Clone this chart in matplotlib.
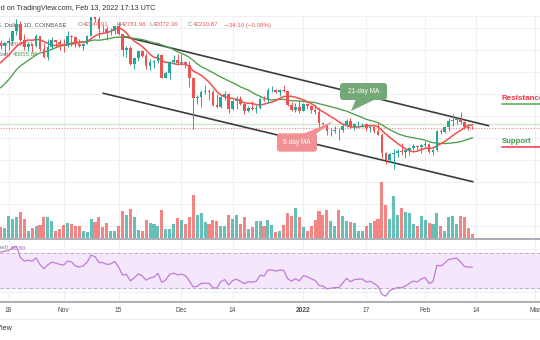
import numpy as np
import pandas as pd
import matplotlib
matplotlib.use("Agg")
import matplotlib.pyplot as plt
from matplotlib.transforms import Affine2D, blended_transform_factory
from matplotlib.patches import FancyBboxPatch, Polygon
from matplotlib.lines import Line2D

plt.rcParams["font.family"] = ["Liberation Sans", "DejaVu Sans"]

# BTC/USD daily candles (Coinbase), 2021-10-16 .. 2022-02-13
opens = [61550, 60880, 61530, 61990, 64280, 66000, 62200, 60690, 61300, 60860,
         63080, 60330, 58450, 60590, 62270, 61880, 61320, 61000, 63230, 62930,
         61400, 60950, 61460, 63270, 67540, 66940, 64880, 64780, 64150, 64390,
         65500, 63600, 60100, 60370, 56900, 58100, 59720, 58720, 56300, 57200,
         57500, 58950, 53700, 54750, 57300, 57800, 56950, 57200, 56500, 53600,
         49200, 49400, 50550, 50600, 50500, 47550, 47150, 49350, 50100, 46700,
         48350, 48900, 47650, 46200, 46850, 46700, 46900, 48950, 48600, 50800,
         50850, 50450, 50800, 50700, 47550, 46450, 47150, 46200, 47750, 47350,
         46450, 45850, 43450, 43100, 41550, 41700, 41850, 41800, 42750, 43900,
         42600, 43100, 43200, 43250, 42250, 42400, 41700, 40700, 36500, 35100,
         36300, 36700, 37000, 36850, 37200, 37750, 38200, 37900, 38500, 38750,
         36900, 37300, 41600, 41400, 42400, 43850, 44050, 44400, 43550, 42400,
         42245]
highs = [62350, 61700, 62650, 64500, 66990, 66650, 63700, 61750, 61480, 63700,
         63280, 61480, 62500, 62950, 62350, 62400, 62400, 64250, 63500, 63120,
         62600, 61550, 63300, 67780, 68530, 69000, 65600, 65450, 64950, 65550,
         66300, 63650, 60800, 60950, 58350, 59850, 60000, 59300, 57850, 57700,
         59350, 59150, 55300, 57450, 58900, 59200, 59100, 57400, 57600, 53900,
         49700, 50900, 51950, 51200, 50800, 50100, 49500, 50750, 50200, 48700,
         49500, 49450, 48000, 47300, 48350, 47550, 49350, 49550, 51350, 51850,
         51150, 51250, 52100, 50750, 48150, 47900, 48550, 47950, 47950, 47550,
         47500, 47050, 43750, 43150, 42300, 42800, 42250, 43100, 44350, 44450,
         43450, 43800, 43500, 43300, 42700, 42600, 43500, 41100, 36800, 36500,
         37550, 37550, 38900, 37250, 38000, 38700, 38400, 38750, 39300, 38850,
         37400, 41750, 41950, 42650, 44500, 45500, 44800, 45850, 43950, 43000,
         42782]
lows = [60150, 58950, 60000, 61350, 63500, 62000, 60000, 59700, 59600, 60650,
        59850, 58100, 57800, 60200, 60700, 59950, 59500, 60600, 60950, 60700,
        60750, 60100, 61350, 63100, 66350, 62800, 64100, 62300, 63400, 63580,
        63450, 58600, 58350, 56500, 55650, 57400, 58500, 55650, 55400, 55900,
        57000, 53600, 53650, 53350, 56750, 56550, 56500, 55850, 51700, 42000,
        47800, 47100, 50100, 48650, 47350, 46900, 46850, 48650, 45650, 46300,
        46550, 47550, 45500, 45950, 46400, 45600, 46650, 48450, 48050, 50450,
        50200, 49450, 50450, 47350, 46100, 45900, 45700, 46150, 46700, 45700,
        45500, 42500, 42450, 40650, 40550, 41250, 39650, 41300, 42500, 42350,
        41750, 42600, 42600, 41550, 41300, 41150, 40600, 35500, 34000, 34600,
        32950, 35750, 36250, 35550, 36200, 37350, 37350, 36650, 38000, 36600,
        36250, 37050, 40950, 41100, 41650, 42700, 43150, 43200, 42000, 41750,
        42072]
closes = [60880, 61530, 61990, 64280, 66000, 62200, 60690, 61300, 60860, 63080,
          60330, 58450, 60590, 62270, 61880, 61320, 61000, 63230, 62930, 61400,
          60950, 61460, 63270, 67540, 66940, 64880, 64780, 64150, 64390, 65500,
          63600, 60100, 60370, 56900, 58100, 59720, 58720, 56300, 57200, 57500,
          58950, 53700, 54750, 57300, 57800, 56950, 57200, 56500, 53600, 49200,
          49400, 50550, 50600, 50500, 47550, 47150, 49350, 50100, 46700, 48350,
          48900, 47650, 46200, 46850, 46700, 46900, 48950, 48600, 50800, 50850,
          50450, 50800, 50700, 47550, 46450, 47150, 46200, 47750, 47350, 46450,
          45850, 43450, 43100, 41550, 41700, 41850, 41800, 42750, 43900, 42600,
          43100, 43200, 43250, 42250, 42400, 41700, 40700, 36500, 35100, 36300,
          36700, 37000, 36850, 37200, 37750, 38200, 37900, 38500, 38750, 36900,
          37300, 41600, 41400, 42400, 43850, 44050, 44400, 43550, 42400, 42245,
          42211]
# volume, relative units
volumes = [33, 30, 65, 58, 63, 78, 57, 22, 30, 35, 40, 62, 63, 50, 22, 28, 38, 45,
           42, 37, 35, 22, 18, 58, 48, 62, 34, 45, 20, 20, 35, 82, 68, 87, 62, 25,
           22, 53, 45, 42, 35, 85, 27, 28, 43, 60, 55, 43, 63, 128, 70, 75, 47, 43,
           53, 51, 37, 35, 69, 57, 70, 42, 62, 27, 32, 52, 51, 35, 55, 38, 18, 22,
           38, 75, 67, 90, 62, 32, 22, 37, 55, 82, 69, 85, 50, 37, 84, 65, 52, 48,
           45, 20, 22, 37, 45, 52, 58, 167, 98, 58, 127, 70, 90, 77, 75, 43, 35,
           65, 55, 45, 43, 75, 37, 22, 63, 65, 42, 65, 64, 30, 12]
# closes 2021-09-01 .. 2021-10-15 (before the first candle), used by MA / RSI
earlier_closes = [48850, 49300, 50000, 49900, 51750, 52700, 46850, 46050, 46400, 44850,
                  45150, 46050, 44950, 47100, 48150, 47750, 47300, 48300, 47250, 43000,
                  40700, 43550, 44900, 42800, 42700, 43200, 42200, 41050, 41500, 43800,
                  48150, 47650, 48200, 49250, 51500, 55350, 53800, 53950, 54950, 54650,
                  57500, 56000, 57400, 57350, 61650]

first_day = "2021-10-16"
tick_dates = ["2021-10-18", "2021-11-01", "2021-11-15", "2021-12-01", "2021-12-14",
              "2022-01-01", "2022-01-17", "2022-02-01", "2022-02-14", "2022-03-01"]
tick_labels = ["18", "Nov", "15", "Dec", "14", "2022", "17", "Feb", "14", "Mar"]

# trend channel drawn on the chart (days after first candle, price)
upper_channel_x = [31.6, 124.1]
upper_channel_y = [63020, 42800]
lower_channel_x = [26.1, 120.1]
lower_channel_y = [50160, 30070]
level_price = 43180
last_close = 42210.87

UP, DOWN = "#26a69a", "#ef5350"
GRID = "#edf0f5"
FS = 4.4

W, H = 540, 340
fig = plt.figure(figsize=(W / 100, H / 100), dpi=100)
# pixel coordinates, origin top-left
pix = Affine2D().scale(1, -1).translate(0, H).scale(1 / 100) + fig.dpi_scale_trans


def rect(top, bottom):
    return [0, 1 - bottom / H, 1, (bottom - top) / H]


n = len(closes)
x = np.arange(n)
xlim = (-0.7 / 3.93, (W - 0.7) / 3.93)
t0 = pd.Timestamp(first_day)
tick_x = [(pd.Timestamp(d) - t0).days for d in tick_dates]

all_closes = pd.Series(earlier_closes + closes, dtype=float)
ma9 = all_closes.rolling(9).mean().to_numpy()[-n:]
ma21 = all_closes.rolling(21).mean().to_numpy()[-n:]

delta = np.diff(all_closes.to_numpy())
gain = np.clip(delta, 0, None)
loss = np.clip(-delta, 0, None)
ag, al = gain[:14].mean(), loss[:14].mean()
rsi_all = [100 - 100 / (1 + ag / al)]
for g, l in zip(gain[14:], loss[14:]):
    ag = (ag * 13 + g) / 14
    al = (al * 13 + l) / 14
    rsi_all.append(100 - 100 / (1 + ag / al))
rsi = np.array(rsi_all)[-n:]

colors = [UP if c >= o else DOWN for o, c in zip(opens, closes)]

# --- volume layer (bottom of the price pane)
vax = fig.add_axes(rect(15.5, 238))
vax.set_axis_off()
vax.set_xlim(xlim)
vax.set_ylim(0, 667.5)

# --- price layer
ax = fig.add_axes(rect(15.5, 238))
ax.set_axis_off()
ax.set_xlim(xlim)
ax.set_ylim(17273, 67841)

for tx in tick_x:
    vax.axvline(tx, color=GRID, lw=0.8, zorder=0)
vax.hlines(np.arange(20000, 70000, 5000), xlim[0], xlim[1],
           transform=ax.transData, color=GRID, lw=0.8, zorder=0)
vax.bar(x, volumes, width=0.78, color=colors, alpha=0.7, zorder=1)

ax.axhline(level_price, color="#c8e6c9", lw=0.9, zorder=1)
ax.axhline(last_close, color="#f08a88", lw=0.8, ls=(0, (1, 1.5)), zorder=1)

ax.plot(upper_channel_x, upper_channel_y, color="#3c3c3c", lw=1.2, zorder=2)
ax.plot(lower_channel_x, lower_channel_y, color="#3c3c3c", lw=1.2, zorder=2)

ax.plot(x, ma21, color="#4e9e4c", lw=0.95, zorder=2)
ax.plot(x, ma9, color="#f0504c", lw=1.1, zorder=2)

ax.vlines(x, lows, highs, colors=colors, lw=0.7, zorder=3)
body = np.maximum(np.abs(np.array(closes) - np.array(opens)), 80)
ax.bar(x, body, bottom=np.minimum(opens, closes), width=0.68, color=colors, zorder=3)

# legend lines (sit under the candles, as in the screenshot)
ax.text(67, 25, "Bitcoin / U.S. Dollar, 1D, COINBASE", transform=pix, ha="right",
        va="center", fontsize=FS, color="#555555", zorder=1, clip_on=False)
for lx, letter, vx, val in [(77.5, "O", 82.5, "42244.91"), (116.5, "H", 121, "42781.96"),
                            (149, "L", 153, "42072.36"), (188, "C", 193, "42210.87")]:
    ax.text(lx, 25, letter, transform=pix, va="center", fontsize=FS, color="#787b86",
            zorder=1, clip_on=False)
    ax.text(vx, 25, val, transform=pix, va="center", fontsize=FS, color=DOWN,
            zorder=1, clip_on=False)
ax.text(225, 25, "\u221234.10 (\u22120.08%)", transform=pix, va="center", fontsize=FS,
        color=DOWN, zorder=1, clip_on=False)
ax.text(7.5, 44.5, "MA (9, close, Label)", transform=pix, ha="right", va="center",
        fontsize=FS, color="#787b86", zorder=1, clip_on=False)
ax.text(9, 44.5, "42945.11", transform=pix, va="center", fontsize=FS, color=DOWN,
        zorder=1, clip_on=False)
ax.text(10.5, 54.5, "MA (21, close, Label)", transform=pix, ha="right", va="center",
        fontsize=FS, color="#787b86", zorder=1, clip_on=False)
ax.text(13, 54.5, "40055.86", transform=pix, va="center", fontsize=FS, color="#4e9e4c",
        zorder=1, clip_on=False)

# --- RSI pane
rax = fig.add_axes(rect(239, 302))
rax.set_axis_off()
rax.set_xlim(xlim)
rax.set_ylim(14, 86)
for tx in tick_x:
    rax.axvline(tx, color=GRID, lw=0.8, zorder=0)
for lvl in (25, 50, 75):
    rax.axhline(lvl, color=GRID, lw=0.8, zorder=0)
rax.axhspan(30, 70, color="#f4e7fc", zorder=1)
for lvl in (30, 70):
    rax.axhline(lvl, color="#b0a8b4", lw=0.6, ls=(0, (4, 3)), zorder=2)
rax.plot(x, rsi, color="#c07bd6", lw=0.9, zorder=3)
rax.text(8.5, 248, "RSI (14, close, Label)", transform=pix, ha="right", va="center",
         fontsize=FS, color="#787b86", clip_on=False)
rax.text(11, 248, "53.80", transform=pix, va="center", fontsize=FS, color="#b06cc8",
         clip_on=False)

# pane borders
for yy, col, w in [(15.5, "#eef0f4", 0.8), (239, "#a5a8af", 1.3), (302, "#a5a8af", 1.3),
                   (319, "#eeeeee", 0.8)]:
    fig.add_artist(Line2D([0, W], [yy, yy], transform=pix, color=col, lw=w))

# time axis
tband = blended_transform_factory(ax.transData, pix)
for tx, lab in zip(tick_x, tick_labels):
    fig.text(tx, 310, lab, transform=tband, ha="center", va="center", fontsize=4.8,
             color="#4d4d4d", fontweight="bold" if lab == "2022" else "normal")

# header
fig.text(155, 8, "Published on TradingView.com, Feb 13, 2022 17:13 UTC", transform=pix,
         ha="right", va="center", fontsize=5.2, color="#333333")
fig.text(12.5, 329, "TradingView", transform=pix, ha="right", va="center",
         fontsize=5.2, color="#333333")

# callouts
fig.add_artist(Polygon([(356, 99), (376, 99), (351, 111)], closed=True, transform=pix,
                       facecolor="#74a877", edgecolor="none"))
fig.add_artist(FancyBboxPatch((340, 83), 47, 17, boxstyle="round,pad=0,rounding_size=3",
                              transform=pix, facecolor="#74a877", edgecolor="none"))
fig.text(363.5, 91.5, "21-day MA", transform=pix, ha="center", va="center",
         fontsize=4.7, color="white")

fig.add_artist(Polygon([(303, 134), (316, 134), (334, 121)], closed=True, transform=pix,
                       facecolor="#f29193", edgecolor="none"))
fig.add_artist(FancyBboxPatch((277, 133.3), 40, 18.4, boxstyle="round,pad=0,rounding_size=3",
                              transform=pix, facecolor="#f29193", edgecolor="none"))
fig.text(297, 142.5, "9-day MA", transform=pix, ha="center", va="center",
         fontsize=4.7, color="white")

# support / resistance labels
fig.text(502, 99, "Resistance", transform=pix, ha="left", va="center", fontsize=5.8,
         fontweight="bold", color="#f23645")
fig.add_artist(Line2D([502, 545], [103.5, 103.5], transform=pix, color="#4caf50", lw=1.1))
fig.text(502, 141.5, "Support", transform=pix, ha="left", va="center", fontsize=5.6,
         fontweight="bold", color="#3d9a45")
fig.add_artist(Line2D([502, 545], [146.7, 146.7], transform=pix, color="#f23645", lw=1.1))

fig.savefig("out.png", dpi=100, facecolor="white")
